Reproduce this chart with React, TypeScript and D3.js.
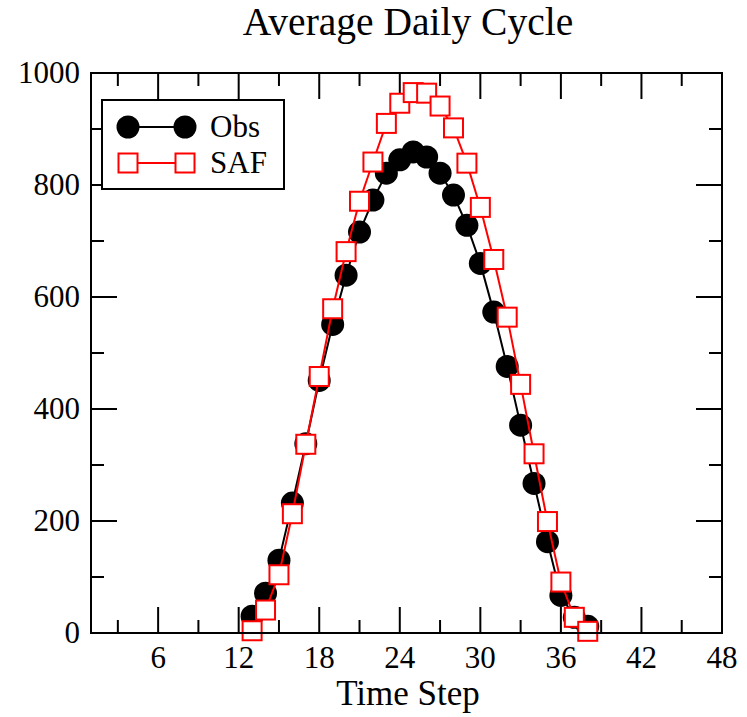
import React from "react";
import * as d3 from "d3";

const timeSteps = [13, 14, 15, 16, 17, 18, 19, 20, 21, 22, 23, 24, 25, 26, 27, 28, 29, 30, 31, 32, 33, 34, 35, 36, 37, 38];
const obsValues = [30, 71, 130, 232, 338, 451, 551, 639, 716, 773, 821, 845, 859, 850, 821, 782, 728, 660, 573, 476, 371, 267, 163, 67, 28, 12];
const safValues = [4, 41, 104, 213, 337, 458, 579, 681, 771, 841, 910, 946, 965, 964, 941, 902, 839, 760, 667, 564, 444, 320, 199, 91, 28, 3];
const xMajorTicks = [6, 12, 18, 24, 30, 36, 42, 48];
const xMinorTicks = [3, 9, 15, 21, 27, 33, 39, 45];
const yMajorTicks = [0, 200, 400, 600, 800, 1000];
const yMinorTicks = [100, 300, 500, 700, 900];
const seriesNames = ["Obs", "SAF"];
const title = "Average Daily Cycle";
const xTitle = "Time Step";

const W = 747, H = 717;
const L = 91, R = 722, T = 73, B = 633;
const FONT = "'Liberation Serif', 'DejaVu Serif', serif";

export default function App() {
  const x = d3.scaleLinear().domain([1, 48]).range([L, R]);
  const y = d3.scaleLinear().domain([0, 1000]).range([B, T]);
  const obsPts = timeSteps.map((t, i) => [x(t), y(obsValues[i])] as [number, number]);
  const safPts = timeSteps.map((t, i) => [x(t), y(safValues[i])] as [number, number]);
  const line = d3.line();
  const major = 26, minor = 13;
  const sq = 19;
  const tickStroke = { stroke: "#000", strokeWidth: 2 };

  return (
    <svg width={W} height={H} style={{ position: "absolute", left: 0, top: 0, background: "#fff" }}>
      <rect x={0} y={0} width={W} height={H} fill="#fff" />
      <text x={408} y={35} textAnchor="middle" fontFamily={FONT} fontSize={39.5} fill="#000">{title}</text>

      {/* ticks */}
      {xMajorTicks.map((t) => (
        <g key={"xM" + t}>
          <line x1={x(t)} x2={x(t)} y1={B} y2={B - major} {...tickStroke} />
          <line x1={x(t)} x2={x(t)} y1={T} y2={T + major} {...tickStroke} />
          <text x={x(t)} y={668} textAnchor="middle" fontFamily={FONT} fontSize={31} fill="#000">{t}</text>
        </g>
      ))}
      {xMinorTicks.map((t) => (
        <g key={"xm" + t}>
          <line x1={x(t)} x2={x(t)} y1={B} y2={B - minor} {...tickStroke} />
          <line x1={x(t)} x2={x(t)} y1={T} y2={T + minor} {...tickStroke} />
        </g>
      ))}
      {yMajorTicks.map((v) => (
        <g key={"yM" + v}>
          <line x1={L} x2={L + major} y1={y(v)} y2={y(v)} {...tickStroke} />
          <line x1={R} x2={R - major} y1={y(v)} y2={y(v)} {...tickStroke} />
          <text x={80} y={y(v) + 10} textAnchor="end" fontFamily={FONT} fontSize={31} fill="#000">{v}</text>
        </g>
      ))}
      {yMinorTicks.map((v) => (
        <g key={"ym" + v}>
          <line x1={L} x2={L + minor} y1={y(v)} y2={y(v)} {...tickStroke} />
          <line x1={R} x2={R - minor} y1={y(v)} y2={y(v)} {...tickStroke} />
        </g>
      ))}

      {/* Obs series */}
      <path d={line(obsPts) || ""} fill="none" stroke="#000" strokeWidth={2} />
      {obsPts.map((p, i) => (
        <circle key={"o" + i} cx={p[0]} cy={p[1]} r={11.5} fill="#000" />
      ))}
      {/* SAF series */}
      <path d={line(safPts) || ""} fill="none" stroke="#ff0000" strokeWidth={2} />
      {safPts.map((p, i) => (
        <rect key={"s" + i} x={p[0] - sq / 2} y={p[1] - sq / 2} width={sq} height={sq} fill="#fff" stroke="#ff0000" strokeWidth={2} />
      ))}

      {/* frame */}
      <rect x={L} y={T} width={R - L} height={B - T} fill="none" stroke="#000" strokeWidth={2} />

      {/* legend */}
      <rect x={102} y={100} width={182} height={89} fill="#fff" stroke="#000" strokeWidth={2} />
      <line x1={128} x2={185} y1={127} y2={127} stroke="#000" strokeWidth={2} />
      <circle cx={128} cy={127} r={11.5} fill="#000" />
      <circle cx={185} cy={127} r={11.5} fill="#000" />
      <text x={210} y={137} fontFamily={FONT} fontSize={31} fill="#000">{seriesNames[0]}</text>
      <line x1={128} x2={185} y1={163} y2={163} stroke="#ff0000" strokeWidth={2} />
      <rect x={128 - sq / 2} y={163 - sq / 2} width={sq} height={sq} fill="#fff" stroke="#ff0000" strokeWidth={2} />
      <rect x={185 - sq / 2} y={163 - sq / 2} width={sq} height={sq} fill="#fff" stroke="#ff0000" strokeWidth={2} />
      <text x={210} y={173} fontFamily={FONT} fontSize={31} fill="#000">{seriesNames[1]}</text>

      <text x={408} y={705} textAnchor="middle" fontFamily={FONT} fontSize={35} fill="#000">{xTitle}</text>
    </svg>
  );
}
